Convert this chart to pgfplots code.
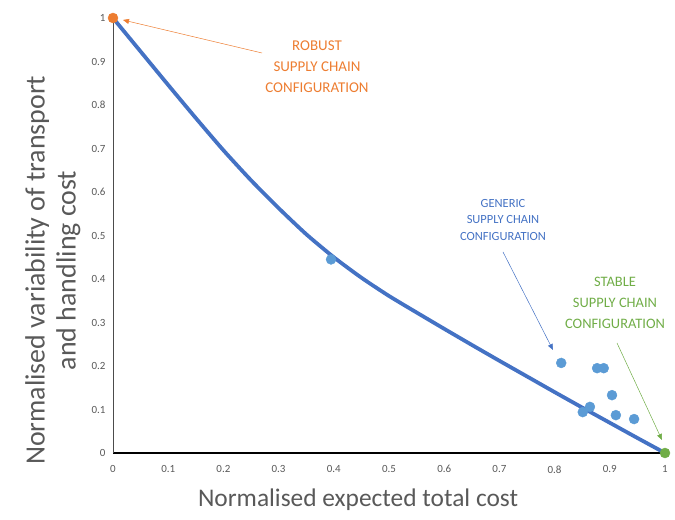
\documentclass[border=0pt]{standalone}
\usepackage{pgfplots}
\pgfplotsset{compat=1.18}
\usepackage{fontspec}
\setmainfont{Carlito}
\usetikzlibrary{arrows.meta}
\definecolor{curveblue}{HTML}{4472C4}
\definecolor{dotblue}{HTML}{5B9BD5}
\definecolor{myorange}{HTML}{ED7D31}
\definecolor{mygreen}{HTML}{70AD47}
\definecolor{txtgrey}{HTML}{595959}
\begin{document}
\begin{tikzpicture}
\useasboundingbox (-113bp,-67bp) rectangle (562bp,453bp);
\begin{axis}[
  at={(0,0)}, anchor=south west,
  scale only axis, width=552bp, height=435bp,
  xmin=0, xmax=1, ymin=0, ymax=1,
  axis lines*=left,
  x axis line style={black, line width=1.3pt},
  y axis line style={black!70, line width=0.8pt},
  xtick={0,0.1,...,1}, ytick={0,0.1,...,1},
  xticklabels={0,0.1,0.2,0.3,0.4,0.5,0.6,0.7,0.8,0.9,1},
  yticklabels={0,0.1,0.2,0.3,0.4,0.5,0.6,0.7,0.8,0.9,1},
  major tick length=0pt,
  tick label style={font=\fontsize{11}{13}\selectfont, text=txtgrey},
  xticklabel style={yshift=-9bp},
  yticklabel style={xshift=-4bp},
  xlabel={Normalised expected total cost},
  ylabel={Normalised variability of transport\\and handling cost},
  xlabel style={font=\fontsize{25.5}{30}\selectfont, text=txtgrey, at={(axis description cs:0.444,-0.108)}, anchor=center},
  ylabel style={font=\fontsize{28}{31}\selectfont, text=txtgrey, align=center, at={(axis description cs:-0.109,0.42)}, anchor=center},
  clip=false,
]
\addplot[curveblue, line width=3.8pt, smooth, tension=0.4] coordinates {
(0,1) (0.05,0.923) (0.1,0.846) (0.15,0.770) (0.2,0.696) (0.25,0.627) (0.3,0.563) (0.35,0.503) (0.4,0.450) (0.45,0.403) (0.5,0.361) (0.55,0.323) (0.6,0.2855) (0.65,0.2485) (0.7,0.212) (0.75,0.176) (0.8,0.140) (0.85,0.1045) (0.9,0.0695) (0.95,0.0345) (1.0,0.0)
};
\addplot[only marks, mark=*, mark size=5bp, mark options={draw=dotblue, fill=dotblue}] coordinates {
(0.395,0.445) (0.812,0.207) (0.877,0.195) (0.889,0.195) (0.904,0.133) (0.851,0.094) (0.864,0.106) (0.911,0.087) (0.944,0.078)
};
\addplot[only marks, mark=*, mark size=5bp, mark options={draw=myorange, fill=myorange}] coordinates {(0,1)};
\addplot[only marks, mark=*, mark size=5bp, mark options={draw=mygreen, fill=mygreen}] coordinates {(1,0)};
\end{axis}
% annotations (1bp = 1px, origin at axis corner)
\node[text=myorange, align=center, font=\fontsize{15}{21}\selectfont] at (204bp,386bp) {ROBUST\\SUPPLY CHAIN\\CONFIGURATION};
\draw[myorange, line width=0.5pt, -{Triangle[length=6bp,width=5bp]}] (149bp,400bp) -- (10bp,433bp);
\node[text=curveblue, align=center, font=\fontsize{12.5}{17}\selectfont] at (390bp,233bp) {GENERIC\\SUPPLY CHAIN\\CONFIGURATION};
\draw[curveblue, line width=0.5pt, -{Triangle[length=6bp,width=5bp]}] (390bp,201bp) -- (440bp,103bp);
\node[text=mygreen, align=center, font=\fontsize{14.5}{21}\selectfont] at (502bp,150bp) {STABLE\\SUPPLY CHAIN\\CONFIGURATION};
\draw[mygreen, line width=0.5pt, -{Triangle[length=6bp,width=5bp]}] (504bp,110bp) -- (549bp,13bp);
\end{tikzpicture}
\end{document}
